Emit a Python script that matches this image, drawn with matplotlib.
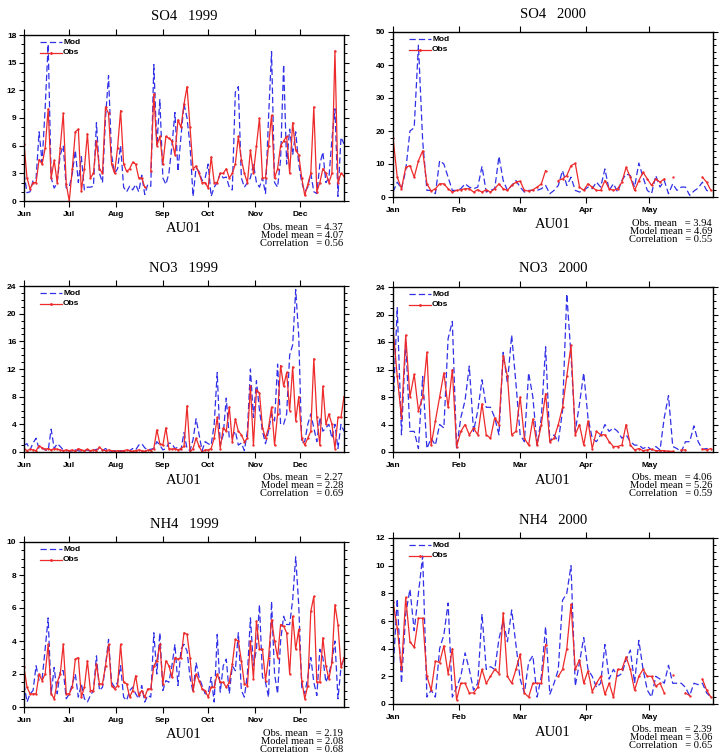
import matplotlib
matplotlib.use("Agg")
import matplotlib.pyplot as plt
import matplotlib.dates as mdates
from matplotlib.lines import Line2D
from matplotlib.ticker import MultipleLocator
import numpy as np
import pandas as pd

nan = np.nan

# every second day of each period
days_1999 = pd.date_range("1999-06-01", periods=107, freq="2D")
days_2000 = pd.date_range("2000-01-01", periods=76, freq="2D")

so4_1999_mod = [3, 0.9, 1, 2.2, 2.4, 7.5, 4.2, 10, 17, 2.5,
                1.4, 2, 5, 6, 1.4, 1.5, 3, 5.5, 2, 4.8,
                1.2, 1.5, 1.5, 1.6, 8.5, 3, 2, 9, 13.6, 5,
                3, 3.5, 6, 1.5, 1, 1.6, 1.2, 1.8, 1, 2.8,
                0.7, 1.8, 1.6, 14.8, 6, 11, 2.5, 1.8, 3, 6,
                9.6, 3.2, 7, 10.5, 9, 6, 0.5, 3.6, 3.2, 2.2,
                2.5, 4, 0.5, 1.5, 2, 3, 2.5, 2.6, 1.5, 1.2,
                11.8, 12.4, 2.5, 1.5, 2, 2.5, 4, 2, 1.5, 2.5,
                0.8, 9, 16.2, 2, 1.5, 4.5, 14.8, 4, 7.8, 5,
                7.5, 4, 2, 1, 1.5, 3, 1, 0.8, 4, 5.3,
                2, 2.5, 6.7, 10, 0.5, 6.9, 6.2]
so4_1999_obs = [6.2, 2.5, 1.3, 2, 2, 4.5, 4, 5.7, 10, 2.5,
                4.4, 2, 5.8, 9.5, 1.8, 0, 3.5, 7.5, 7.8, 1.1,
                3.5, 7.3, 2.5, 3, 6.5, 3.5, 3, 10.2, 9.5, 4,
                3, 5.8, 9.8, 4, 3.2, 3.5, 4.2, 4, 2.5, 2.5,
                1.5, nan, 3.2, 11.6, 6, 7, 4, 7, 6.8, 6.5,
                5, 8.8, 8, 10.5, 12.4, 8, 3.5, 3.8, 3, 2,
                2, 1.4, 4.8, 2, 2, 3, 3, 3.5, 2.5, 3,
                4, 7, 4.5, 3, 2, 5.5, 3, 6, 9, 2.5,
                2.5, 6, 9.3, 2.5, 3.5, 6, 6.5, 7, 3, 8.5,
                5.5, 5, 2.5, 0.6, 1.8, 3, 10.2, 1, 2, 3.5,
                3, 2, 3, 16.3, 2, 3, 2.7]

no3_1999_mod = [1.0, 1.2, 0.3, 1.3, 2.0, 0.4, 0.6, 0.3, 0.2, 3.3,
                0.5, 1.2, 0.8, 0.3, 0.2, 0.2, 0.1, 0.3, 0.2, 0.1,
                0.2, 0.3, 0.1, 0.2, 0.4, 0.3, 0.2, 0.5, 0.2, 0.1,
                0.2, 0.1, 0.2, 0.1, 0.3, 0.2, 0.5, 0.3, 1.0, 1.2,
                0.6, 0.3, 0.4, 0.5, 1.5, 1.0, 0.3, 0.5, 1.3, 1.2,
                0.5, 0.7, 0.3, 2.8, 0.5, 0.2, 1.8, 4.8, 2.5, 0.2,
                1.5, 1.2, 1.0, 4, 11.5, 1, 2.5, 7.8, 2, 2.2,
                3, 1, 1.3, 0.2, 3, 12, 5, 10.3, 6, 3,
                1.2, 3, 5.5, 4.5, 12.7, 4, 4, 5.5, 14, 15.5,
                23.5, 16.8, 1.3, 1.5, 4, 5.5, 3.5, 1.5, 5, 3,
                3.5, 4, 2, 4, 0.5, 4, 3]
no3_1999_obs = [0.5, 0.2, 0.4, 0.3, 0.2, 0.9, 0.6, 0.4, 0.5, 0.3,
                0.5, 0.4, 0.3, 0.2, 0.3, 0.2, 0.3, 0.1, 0.5, 0.3,
                0.2, 0.4, 0.2, 0.3, 0.2, 0.7, 0.3, 0.2, 0.3, 0.2,
                0.1, 0.2, 0.1, 0.2, 0.3, 0.2, 0.1, 0.2, 0.3, 0.2,
                0.1, 0.3, 0.2, 0.5, 3.2, 1.2, 1.0, 3.5, 0.5, 0.4,
                0.5, 0.3, 0.5, 0.8, 6.7, 0, 0.5, 2, 0.8, 0,
                0.3, 0.3, 0.5, 2, 5, 0.5, 3.5, 3, 6.5, 1.5,
                4.8, 3, 2.5, 1.5, 2, 9.5, 1, 9, 8.5, 3.5,
                2, 3.5, 6.5, 1, 5.5, 12.5, 9.5, 11.5, 6, 12.3,
                4.5, 8, 2, 1, 2, 3, 13.5, 5, 1, 9.5,
                4, 5.5, 4, 0.5, 5, 5, 8]

nh4_1999_mod = [1.4, 0.3, 0.8, 1.0, 2.5, 1.6, 1.7, 3.5, 5.4, 0.8,
                2.4, 0.8, 2.2, 2.2, 0.5, 0.8, 1.4, 2, 0.6, 1.4,
                0.5, 0.3, 0.7, 1.0, 3.1, 1.0, 1.2, 2.5, 4.1, 1.5,
                1.2, 1.5, 2.5, 0.6, 0.4, 1.0, 1.2, 0.8, 0.5, 1.3,
                0.3, 0.7, 0.6, 4.5, 2.0, 4.5, 1.0, 1.6, 1.5, 2.5,
                3.8, 1.3, 3.5, 3.8, 3.4, 1.8, 0.9, 2.7, 1.8, 1.3,
                0.8, 0.8, 1.8, 0.3, 4.4, 0.9, 2.5, 2.9, 0.8, 2.5,
                2.2, 4.5, 1.0, 0.6, 2.0, 5.4, 2.5, 3.5, 6.2, 1.8,
                1.5, 0.6, 6.4, 2, 0.8, 4, 5.5, 5, 5, 6.5,
                9.1, 6.2, 1.2, 0.8, 1.8, 3, 1.5, 0.7, 3.5, 3,
                1.5, 2, 2.8, 4, 0.5, 2.4, 3]
nh4_1999_obs = [2.4, 1.2, 0.8, 0.8, 0.8, 2, 1.6, 2, 3.8, 0.8,
                0.5, 1.5, 2, 3.8, 0.8, 0.8, 1.2, 2.9, 3, 0.6,
                1.2, 2.8, 1, 1, 2.6, 1.4, 1.4, 2.5, 3.8, 1.3,
                1.1, 1.3, 3.8, 1.5, 1.4, 0.6, 1.0, 1.9, 0.7, 1.0,
                0.6, 1.1, 1.1, 2.5, 2.8, 3.8, 1.4, 2.8, 2.5, 1.8,
                3, 2.9, 3, 4.5, 4.4, 3, 1, 2, 1.6, 1.1,
                1.0, 0.6, 1.2, 1.2, 2, 1.5, 1.5, 1.2, 1.5, 2.6,
                4.1, 4, 2.8, 1.4, 1.3, 4.0, 1.7, 5.2, 3.5, 3.5,
                1.6, 3, 5.3, 4, 3, 5, 4.9, 4.5, 2.0, 5.5,
                3.5, 4.7, 1.6, 0.5, 1.3, 5.8, 6.7, 1.5, 1.5, 4.2,
                2.5, 1.7, 2.7, 6.2, 5, 2.4, 3]

so4_2000_mod = [1.5, 4.5, 2.5, 8, 20, 21, 46, 17, 2, 2,
                1, 11, 10, 6, 2, 2, 2.5, 4, 3, 2.5,
                3, 9.3, 1.5, 2, 2.5, 12.3, 5, 2, 3.5, 5,
                3, 1.5, 2, 2, 2, 2.5, 3.5, 1, 2, 3.5,
                8, 3.5, 6, 2, 1.5, 2, 3, 2.5, 4.5, 3,
                8.5, 2, 4, 1.5, 5, 7, 6.5, 3, 10.3, 6,
                2, 1, 6.5, 3, 5, 1, 4, 2, 3, 3,
                0.5, 1.8, 2.7, 4.5, 2, 1.5]
so4_2000_obs = [18, 6, 2.5, 9, 9.5, 6, 11, 14, 4, 1.8,
                2.5, 4, 4, 2.5, 1.5, 2, 2.2, 2.5, 2.5, 1.5,
                2.2, 1.5, 2.2, 1.5, 2.5, 4, 2.5, 2, 3.5, 4.5,
                4.8, 2, 1.8, 2.2, 3, 4, 8, nan, nan, 5,
                5.5, 6.5, 9.5, 10.2, 3, 2, 4, 3, 2, 2,
                5, 2.5, 2, 2.5, 4.5, 9, 6, 2, 5, 7.5,
                5.5, 3.5, 5.5, 4.5, 5.5, nan, 6, nan, nan, nan,
                nan, nan, nan, 6, 4.5, 2]

no3_2000_mod = [6, 21, 2.5, 16, 3, 3, 0.5, 11, 0.5, 2,
                1, 4, 3.5, 16.5, 19, 0.5, 5, 7.5, 12.5, 3,
                6, 10.5, 6.5, 6.5, 5, 2.5, 14.5, 10, 17, 10,
                2.5, 1.5, 11.5, 8, 1, 5, 15.3, 1.5, 2.5, 1.5,
                6, 23, 14, 3, 7, 11.5, 5, 2, 1.5, 2.5,
                4, 3, 3.5, 3, 2, 2.5, 1.5, 1, 1, 0.5,
                0.8, 0.3, 0.8, 0.3, 5, 8.2, 0.8, 0.5, 0, 1.5,
                1.5, 3.8, 1.5, 0.4, 0.5, 0.5]
no3_2000_obs = [18, 11, 5, 17, 8, 11.3, 6, 8, 14.5, 1,
                4.5, 8, 11.5, 6.5, 12, 0.8, 3, 4, 2.5, 3.5,
                2.5, 7, 2.5, 2, 5, 4, 14, 11, 2.5, 3,
                8, 2, 1, 4.8, 1, 4, 8.5, 1.5, 2, 4,
                6.5, 11, 15.5, 2.5, 4, 1, 4.5, 0.5, 3, 2.5,
                2.5, 1.5, 0.8, 0.8, 1, 4, 1, 0.3, 0.5, 0.2,
                0.3, 0.4, 0.2, 0.2, 0.2, 0.1, 0.1, nan, 0.3, 0.3,
                nan, nan, nan, 0.4, 0.3, 0.5]

nh4_2000_mod = [2.3, 7.6, 1.5, 6.5, 8.3, 5.3, 8, 10.7, 0.5, 1,
                0.5, 4, 5, 7.3, 0.5, 1.2, 2, 3.7, 2.5, 1,
                1.5, 6.5, 2.5, 2.7, 2.5, 4.7, 6, 4.5, 6.8, 4.3,
                1.8, 0.8, 3, 3.5, 0.5, 2, 5.6, 0.7, 1.5, 2.5,
                7.5, 8, 10, 1.3, 3, 4.8, 2.5, 2, 1.2, 1.5,
                4.3, 1.8, 2.5, 2, 2.2, 3.2, 3.9, 1.5, 4.6, 2.5,
                1, 0.5, 2, 1.8, 1.5, 2.8, 1.5, 1.5, 1.5, 1.2,
                0.6, 1.5, 1.4, 1.5, 0.8, 0.5]
nh4_2000_obs = [7.4, 5.5, 2.5, 7.7, 4.5, 4.1, 6.2, 6.2, 2, 1,
                3.1, 3, 4.2, 2.2, 4, 0.3, 1.5, 1.5, 0.8, 0.8,
                1.2, 2.5, 1.5, 2, 2.5, 2.2, 6.6, 2, 1.5, 2.5,
                3.6, 0.8, 0.5, 1.5, 1.5, 1.5, 4.3, nan, nan, 2,
                2.5, 4, 7.2, 2.5, 3.2, 1.5, 2.4, 0.9, 1.5, 2,
                0.7, 1.5, 0.5, 2.5, 2.5, 3.4, 2.5, 1, 2, 2.5,
                2, 2, 1.3, 1.5, 0.8, nan, 2.1, nan, nan, 0.8,
                0.6, nan, nan, 1.8, 1.0, 0.5]

stats = {
    "SO4_1999": ("4.37", "4.07", "0.56"),
    "SO4_2000": ("3.94", "4.69", "0.55"),
    "NO3_1999": ("2.27", "2.28", "0.69"),
    "NO3_2000": ("4.06", "5.26", "0.59"),
    "NH4_1999": ("2.19", "2.08", "0.68"),
    "NH4_2000": ("2.39", "3.06", "0.65"),
}

MOD_COLOR = "#3030e8"
OBS_COLOR = "#ee2a2a"
SERIF = "Liberation Serif"
SANS = "Liberation Sans"
PT = 0.72  # points per pixel at 100 dpi


def draw_panel(ax, days, mod, obs, species, year, ymax, ystep, yminor, start, end):
    ax.plot(days, mod, color=MOD_COLOR, lw=0.9, ls=(0, (5, 2.5)))
    ax.plot(days, obs, color=OBS_COLOR, lw=0.9, marker=".", ms=1.4)

    ax.set_xlim(pd.Timestamp(start), pd.Timestamp(end))
    ax.set_ylim(0, ymax)
    ax.xaxis.set_major_locator(mdates.MonthLocator())
    ax.xaxis.set_major_formatter(mdates.DateFormatter("%b"))
    ax.yaxis.set_major_locator(MultipleLocator(ystep))
    ax.yaxis.set_minor_locator(MultipleLocator(yminor))
    ax.tick_params(axis="x", which="major", direction="out", length=4.5,
                   width=0.8, top=True, labelsize=6, pad=3)
    ax.tick_params(axis="y", which="major", direction="out", length=3.5,
                   width=0.8, right=True, labelsize=6, pad=2)
    ax.tick_params(axis="y", which="minor", direction="out", length=2,
                   width=0.7, right=True)
    for lab in ax.get_xticklabels() + ax.get_yticklabels():
        lab.set_fontweight("bold")
        lab.set_fontfamily(SANS)
    for sp in ax.spines.values():
        sp.set_linewidth(1.0)

    # legend in the upper left corner
    ax.add_line(Line2D([0.05, 0.12], [0.957, 0.957], transform=ax.transAxes,
                       color=MOD_COLOR, lw=0.9, ls=(0, (5, 2.5))))
    ax.add_line(Line2D([0.05, 0.12], [0.892, 0.892], transform=ax.transAxes,
                       color=OBS_COLOR, lw=0.9))
    ax.add_line(Line2D([0.085], [0.892], transform=ax.transAxes,
                       color=OBS_COLOR, marker=".", ms=2, ls="none"))
    ax.text(0.122, 0.957, "Mod", transform=ax.transAxes, va="center",
            ha="left", fontsize=6, fontweight="bold", family=SANS)
    ax.text(0.122, 0.892, "Obs", transform=ax.transAxes, va="center",
            ha="left", fontsize=6, fontweight="bold", family=SANS)

    ax.annotate(f"{species}   {year}", xy=(0.5, 1), xycoords="axes fraction",
                xytext=(0, 18 * PT), textcoords="offset points",
                ha="center", va="center", fontsize=10.5, family=SERIF)
    ax.annotate("AU01", xy=(0.5, 0), xycoords="axes fraction",
                xytext=(0, -28 * PT), textcoords="offset points",
                ha="center", va="center", fontsize=10.5, family=SERIF)
    obs_m, mod_m, corr = stats[f"{species}_{year}"]
    lines = [f"Obs. mean   = {obs_m}", f"Model mean = {mod_m}",
             f"Correlation   = {corr}"]
    for k, txt in enumerate(lines):
        ax.annotate(txt, xy=(1, 0), xycoords="axes fraction",
                    xytext=(-1 * PT, -(26 + 8 * k) * PT), textcoords="offset points",
                    ha="right", va="center", fontsize=7.6, family=SERIF)


fig = plt.figure(figsize=(7.27, 7.56), dpi=100)
W, H = 727.0, 756.0


def box(x0, y0, x1, y1):
    return [x0 / W, 1 - y1 / H, (x1 - x0) / W, (y1 - y0) / H]


panels = [
    (box(24, 35, 344, 201), days_1999, so4_1999_mod, so4_1999_obs, "SO4", 1999, 18, 3, 1),
    (box(393, 32, 713, 197), days_2000, so4_2000_mod, so4_2000_obs, "SO4", 2000, 50, 10, 2),
    (box(24, 286, 344, 452), days_1999, no3_1999_mod, no3_1999_obs, "NO3", 1999, 24, 4, 1),
    (box(393, 287, 713, 452), days_2000, no3_2000_mod, no3_2000_obs, "NO3", 2000, 24, 4, 1),
    (box(24, 542, 344, 707), days_1999, nh4_1999_mod, nh4_1999_obs, "NH4", 1999, 10, 2, 0.5),
    (box(393, 538, 713, 704), days_2000, nh4_2000_mod, nh4_2000_obs, "NH4", 2000, 12, 2, 0.5),
]

for rect, days, mod, obs, species, year, ymax, ystep, yminor in panels:
    ax = fig.add_axes(rect)
    if year == 1999:
        start, end = "1999-06-01", "1999-12-30"
    else:
        start, end = "2000-01-01", "2000-05-31"
    draw_panel(ax, days, mod, obs, species, year, ymax, ystep, yminor, start, end)

fig.savefig("out.png", dpi=100)
